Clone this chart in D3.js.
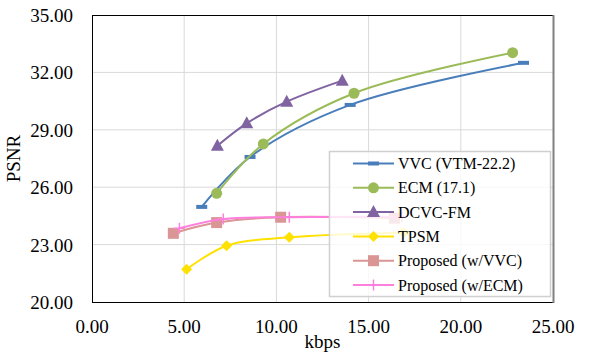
<!DOCTYPE html>
<html><head><meta charset="utf-8">
<script src="https://cdn.jsdelivr.net/npm/d3@7"></script>
<style>html,body{margin:0;padding:0;background:#fff;}svg{display:block;}
svg text{font-family:"Liberation Serif","Times New Roman","Tinos","DejaVu Serif",serif;}</style>
</head><body>
<svg id="chart" width="590" height="354"></svg>
<script>
// ---- data ----
const seriesNames = ["VVC (VTM-22.2)", "ECM (17.1)", "DCVC-FM", "TPSM", "Proposed (w/VVC)", "Proposed (w/ECM)"];
const vvcX = [5.95, 8.57, 14.0, 23.4];
const vvcY = [24.97, 27.58, 30.30, 32.50];
const ecmX = [6.76, 9.29, 14.21, 22.81];
const ecmY = [25.68, 28.26, 30.91, 33.03];
const dcvcX = [6.80, 8.39, 10.56, 13.57];
const dcvcY = [28.17, 29.34, 30.47, 31.57];
const tpsmX = [5.13, 7.30, 10.70, 16.90];
const tpsmY = [21.71, 22.94, 23.38, 23.62];
const propVvcX = [4.41, 6.76, 10.23, 16.40];
const propVvcY = [23.59, 24.15, 24.43, 24.38];
const propEcmX = [4.74, 7.12, 10.70, 16.80];
const propEcmY = [23.85, 24.34, 24.43, 24.45];
const xTicks = [0, 5, 10, 15, 20, 25];
const yTicks = [20, 23, 26, 29, 32, 35];
const colors = ["#4a7ebb", "#9bbb59", "#8064a2", "#ffe100", "#da9694", "#ff80dc"];
const markers = ["dash", "circle", "triangle", "diamond", "square", "plus"];

const seriesData = [
  vvcX.map((x, i) => [x, vvcY[i]]),
  ecmX.map((x, i) => [x, ecmY[i]]),
  dcvcX.map((x, i) => [x, dcvcY[i]]),
  tpsmX.map((x, i) => [x, tpsmY[i]]),
  propVvcX.map((x, i) => [x, propVvcY[i]]),
  propEcmX.map((x, i) => [x, propEcmY[i]])
];

// ---- layout ----
const L = 92, R = 553, T = 15, B = 302;
const svg = d3.select("#chart");
const x = d3.scaleLinear().domain([0, 25]).range([L, R]);
const y = d3.scaleLinear().domain([20, 35]).range([B, T]);

// gridlines
svg.append("g").selectAll("line").data(yTicks.slice(1, -1)).join("line")
  .attr("x1", L).attr("x2", R).attr("y1", d => y(d)).attr("y2", d => y(d))
  .attr("stroke", "#d9d9d9").attr("stroke-width", 1);
svg.append("g").selectAll("line").data(xTicks.slice(1, -1)).join("line")
  .attr("y1", T).attr("y2", B).attr("x1", d => x(d)).attr("x2", d => x(d))
  .attr("stroke", "#d9d9d9").attr("stroke-width", 1);

// frame
svg.append("line").attr("x1", L).attr("x2", R).attr("y1", T + 0.5).attr("y2", T + 0.5).attr("stroke", "#000");
svg.append("line").attr("x1", L).attr("x2", R).attr("y1", B + 0.5).attr("y2", B + 0.5).attr("stroke", "#000");
svg.append("line").attr("x1", L + 0.5).attr("x2", L + 0.5).attr("y1", T).attr("y2", B + 1).attr("stroke", "#000");
svg.append("line").attr("x1", R + 0.5).attr("x2", R + 0.5).attr("y1", T).attr("y2", B + 1).attr("stroke", "#808080").attr("stroke-width", 2);

// tick labels
svg.append("g").selectAll("text").data(yTicks).join("text")
  .attr("x", 73).attr("y", d => y(d) + 7)
  .attr("text-anchor", "end").attr("font-size", 19)
  .attr("fill", "#000").text(d => d.toFixed(2));
svg.append("g").selectAll("text").data(xTicks).join("text")
  .attr("x", d => x(d)).attr("y", 333)
  .attr("text-anchor", "middle").attr("font-size", 19)
  .attr("fill", "#000").text(d => d.toFixed(2));

// axis titles
svg.append("text").attr("x", (L + R) / 2).attr("y", 348).attr("text-anchor", "middle")
  .attr("font-size", 19).text("kbps");
svg.append("text").attr("transform", `translate(20,${(T + B) / 2}) rotate(-90)`)
  .attr("text-anchor", "middle").attr("font-size", 19).text("PSNR");

// marker drawing
function drawMarker(g, type, cx, cy, color) {
  if (type === "dash") {
    g.append("rect").attr("x", cx - 5.5).attr("y", cy - 2).attr("width", 11).attr("height", 4).attr("fill", color);
  } else if (type === "circle") {
    g.append("circle").attr("cx", cx).attr("cy", cy).attr("r", 5.5).attr("fill", color);
  } else if (type === "triangle") {
    g.append("path").attr("d", `M${cx},${cy - 7}L${cx + 6.5},${cy + 5}L${cx - 6.5},${cy + 5}Z`).attr("fill", color);
  } else if (type === "diamond") {
    g.append("path").attr("d", `M${cx},${cy - 5.5}L${cx + 5.5},${cy}L${cx},${cy + 5.5}L${cx - 5.5},${cy}Z`).attr("fill", color);
  } else if (type === "square") {
    g.append("rect").attr("x", cx - 5.5).attr("y", cy - 5.5).attr("width", 11).attr("height", 11).attr("fill", color);
  } else if (type === "plus") {
    g.append("line").attr("x1", cx).attr("x2", cx).attr("y1", cy - 5.5).attr("y2", cy + 5.5).attr("stroke", color).attr("stroke-width", 1.5);
    g.append("line").attr("x1", cx - 5.5).attr("x2", cx + 5.5).attr("y1", cy).attr("y2", cy).attr("stroke", color).attr("stroke-width", 1.5);
  }
}

const line = d3.line().x(d => x(d[0])).y(d => y(d[1])).curve(d3.curveCatmullRom.alpha(0.5));
seriesData.forEach((pts, i) => {
  const g = svg.append("g");
  g.append("path").attr("d", line(pts)).attr("fill", "none").attr("stroke", colors[i]).attr("stroke-width", 2);
  pts.forEach(p => drawMarker(g, markers[i], x(p[0]), y(p[1]), colors[i]));
});

// legend
const lg = svg.append("g");
lg.append("rect").attr("x", 329.5).attr("y", 151.5).attr("width", 221).attr("height", 145)
  .attr("fill", "#fff").attr("fill-opacity", 0.8).attr("stroke", "#d0d0d0").attr("stroke-width", 1.5);
seriesNames.forEach((name, i) => {
  const cy = 163.5 + i * 24.3;
  lg.append("line").attr("x1", 353).attr("x2", 394).attr("y1", cy).attr("y2", cy)
    .attr("stroke", colors[i]).attr("stroke-width", 2);
  drawMarker(lg, markers[i], 373.5, cy, colors[i]);
  lg.append("text").attr("x", 398).attr("y", cy + 5.5)
    .attr("font-size", 16).attr("fill", "#000").text(name);
});
</script>
</body></html>
